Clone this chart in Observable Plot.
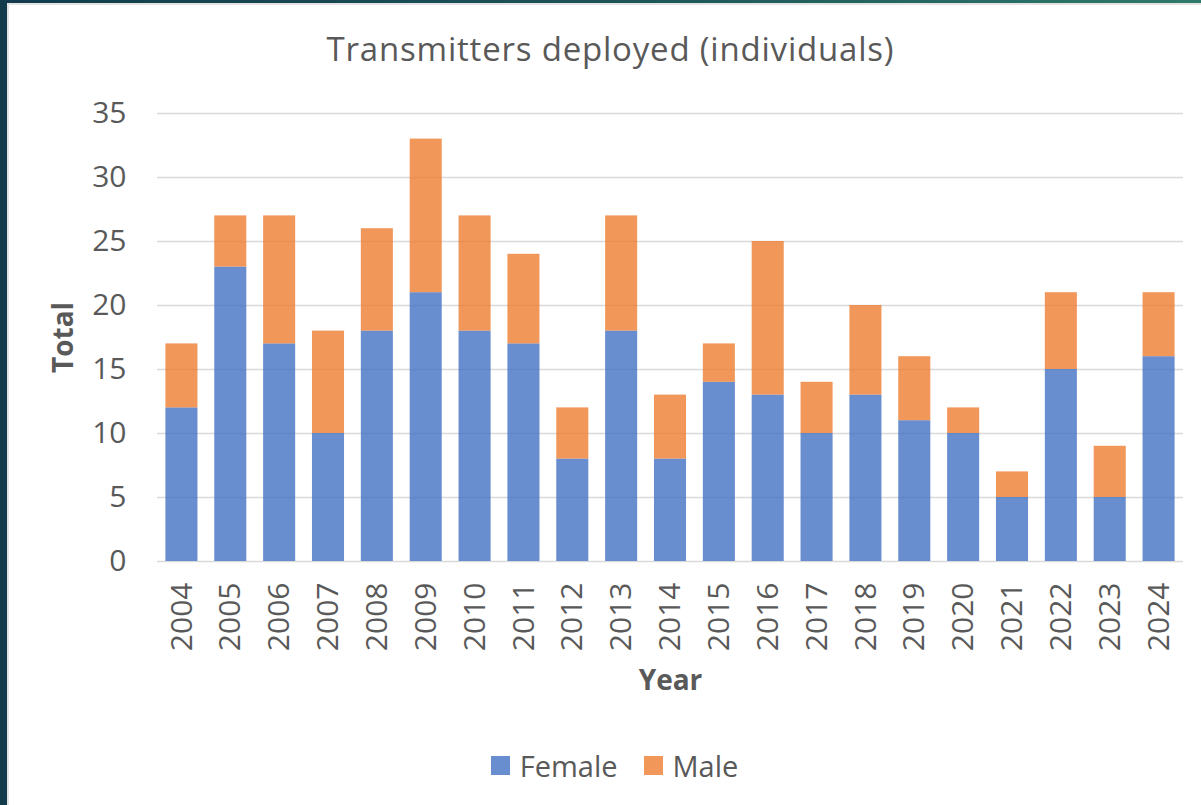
<!DOCTYPE html>
<html>
<head>
<meta charset="utf-8">
<script src="https://cdn.jsdelivr.net/npm/d3@7"></script>
<script src="https://cdn.jsdelivr.net/npm/@observablehq/plot@0.6"></script>
<style>
  html, body { margin: 0; padding: 0; }
  body {
    width: 1201px; height: 805px; position: relative; overflow: hidden;
    background: linear-gradient(to right, #123c4c, #1c5358 50%, #2f7a6a);
    font-family: "Open Sans", sans-serif; color: #595959;
  }
  #panel {
    position: absolute; left: 7px; top: 3px; right: 0; bottom: 0;
    background: #fff; border-left: 2px solid #e3e3e3; border-top: 2px solid #e3e3e3;
  }
  #title {
    position: absolute; left: 10px; width: 1201px; top: 27px;
    text-align: center; font-size: 33px; letter-spacing: 0.8px; line-height: 44px; color: #595959;
  }
  #chart { position: absolute; left: 0; top: 100px; }
  #legend {
    position: absolute; left: 0; width: 1201px; top: 745px; height: 40px;
    display: flex; justify-content: center; align-items: center; gap: 0;
    font-size: 29px; color: #595959; padding-left: 28px; box-sizing: border-box;
  }
  .item { display: flex; align-items: center; margin: 0 13px; }
  .sw { width: 19px; height: 19px; margin-right: 10px; }
</style>
</head>
<body>
<div id="panel"></div>
<div id="title">Transmitters deployed (individuals)</div>
<div id="chart"></div>
<div id="legend"></div>
<script>
const years = ["2004","2005","2006","2007","2008","2009","2010","2011","2012","2013","2014","2015","2016","2017","2018","2019","2020","2021","2022","2023","2024"];
const female = [12, 23, 17, 10, 18, 21, 18, 17, 8, 18, 8, 14, 13, 10, 13, 11, 10, 5, 15, 5, 16];
const male   = [5, 4, 10, 8, 8, 12, 9, 7, 4, 9, 5, 3, 12, 4, 7, 5, 2, 2, 6, 4, 5];
const series = ["Female", "Male"];
const seriesColors = ["#4472C4", "#ED7D31"];
const yTicks = [0, 5, 10, 15, 20, 25, 30, 35];

const data = years.flatMap((yr, i) => [
  {year: yr, sex: "Female", value: female[i]},
  {year: yr, sex: "Male", value: male[i]}
]);

const chart = Plot.plot({
  width: 1201,
  height: 610,
  marginLeft: 157,
  marginRight: 18,
  marginTop: 13,
  marginBottom: 149,
  style: {fontFamily: "Open Sans", fontSize: "30px", color: "#595959", background: "transparent", overflow: "visible"},
  x: {domain: years, padding: 0, round: false, label: null},
  y: {domain: [0, 35], label: null},
  color: {domain: series, range: seriesColors},
  marks: [
    Plot.gridY(yTicks, {stroke: "#d9d9d9", strokeOpacity: 1, strokeWidth: 1.6}),
    Plot.barY(data, {x: "year", y: "value", fill: "sex", fillOpacity: 0.8, order: series, insetLeft: 8.4, insetRight: 8.4}),
    Plot.axisY(yTicks, {tickSize: 0, tickPadding: 31, label: null, fill: "#595959", fontSize: 30}),
    Plot.axisX({tickSize: 0, tickPadding: 21, tickRotate: -90, label: null, fill: "#595959", fontSize: 30}),
    Plot.text(["Total"], {frameAnchor: "left", dx: -93, rotate: -90, fontWeight: "bold", fill: "#595959", fontSize: 28, textAnchor: "middle", lineAnchor: "middle"}),
    Plot.text(["Year"], {frameAnchor: "bottom", dy: 120, fontWeight: "bold", fill: "#595959", fontSize: 28, textAnchor: "middle", lineAnchor: "middle"})
  ]
});
document.getElementById("chart").appendChild(chart);

const legend = document.getElementById("legend");
series.forEach((s, i) => {
  const item = document.createElement("div");
  item.className = "item";
  const sw = document.createElement("div");
  sw.className = "sw";
  sw.style.background = seriesColors[i];
  sw.style.opacity = 0.8;
  const lab = document.createElement("span");
  lab.textContent = s;
  item.appendChild(sw);
  item.appendChild(lab);
  legend.appendChild(item);
});
</script>
</body>
</html>
